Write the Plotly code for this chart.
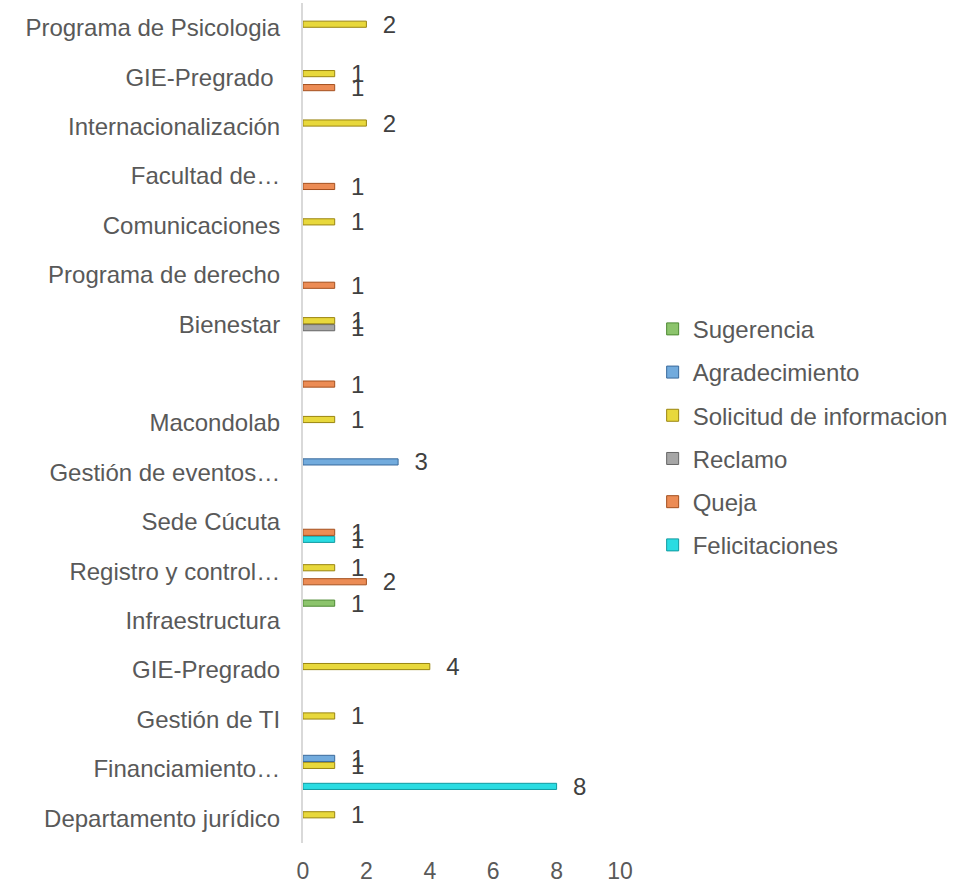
import plotly.graph_objects as go

categories = [
    "Departamento jurídico",
    "Financiamiento…",
    "Gestión de TI",
    "GIE-Pregrado",
    "Infraestructura",
    "Registro y control…",
    "Sede Cúcuta",
    "Gestión de eventos…",
    "Macondolab",
    "\u00a0",
    "Bienestar",
    "Programa de derecho",
    "Comunicaciones",
    "Facultad de…",
    "Internacionalización",
    "GIE-Pregrado\u00a0",
    "Programa de Psicologia",
]

felicitaciones = [None, 8, None, None, None, None, 1, None, None, None, None, None, None, None, None, None, None]
queja = [None, None, None, None, None, 2, 1, None, None, 1, None, 1, None, 1, None, 1, None]
reclamo = [None, None, None, None, None, None, None, None, None, None, 1, None, None, None, None, None, None]
solicitud = [1, 1, 1, 4, None, 1, None, None, 1, None, 1, None, 1, None, 2, 1, 2]
agradecimiento = [None, 1, None, None, None, None, None, 3, None, None, None, None, None, None, None, None, None]
sugerencia = [None, None, None, None, 1, None, None, None, None, None, None, None, None, None, None, None, None]

series = [
    ("Felicitaciones", felicitaciones, "#2ADCE2", "#119AA0"),
    ("Queja", queja, "#EC8C55", "#A4501F"),
    ("Reclamo", reclamo, "#A6A6A6", "#666666"),
    ("Solicitud de informacion", solicitud, "#E8D83C", "#9A8510"),
    ("Agradecimiento", agradecimiento, "#72ABDD", "#3A6A9C"),
    ("Sugerencia", sugerencia, "#8CC46C", "#4E8A34"),
]

x_ticks = [0, 2, 4, 6, 8, 10]

FONT = "Liberation Sans, Arial, sans-serif"

fig = go.Figure()
n = len(series)
for i, (name, vals, fill, edge) in enumerate(series):
    fig.add_trace(go.Bar(
        name=name,
        y=categories,
        x=vals,
        orientation="h",
        marker=dict(color=fill, line=dict(color=edge, width=1)),
        text=vals,
        texttemplate="\u00a0\u00a0%{x}",
        textposition="outside",
        constraintext="none",
        cliponaxis=False,
        textfont=dict(family=FONT, size=24, color="#404040"),
        legendgroup=name,
        legendrank=n - i,
    ))

fig.update_layout(
    width=966,
    height=883,
    margin=dict(l=303, r=346, t=3, b=40, autoexpand=False),
    paper_bgcolor="white",
    plot_bgcolor="white",
    barmode="group",
    bargap=0.15,
    bargroupgap=0.12,
    font=dict(family=FONT, size=24, color="#595959"),
    showlegend=True,
    legend=dict(
        x=1.103, xanchor="left",
        y=0.483, yanchor="middle",
        traceorder="grouped",
        tracegroupgap=9,
        font=dict(size=24, color="#595959"),
        itemwidth=30,
        bgcolor="rgba(0,0,0,0)",
    ),
    xaxis=dict(
        range=[0, 10],
        tickvals=x_ticks,
        showgrid=False,
        zeroline=False,
        showline=False,
        ticks="",
        ticklabelstandoff=12,
        tickfont=dict(size=23, color="#595959"),
    ),
    yaxis=dict(
        type="category",
        categoryorder="array",
        categoryarray=categories,
        showgrid=False,
        zeroline=False,
        showline=True,
        linecolor="#D9D9D9",
        linewidth=2,
        ticks="",
        ticklabelstandoff=16,
        tickfont=dict(size=24, color="#595959"),
    ),
)

fig.write_html(
    "out.html",
    config={"displayModeBar": False},
    post_script="document.body.style.margin='0';",
)
